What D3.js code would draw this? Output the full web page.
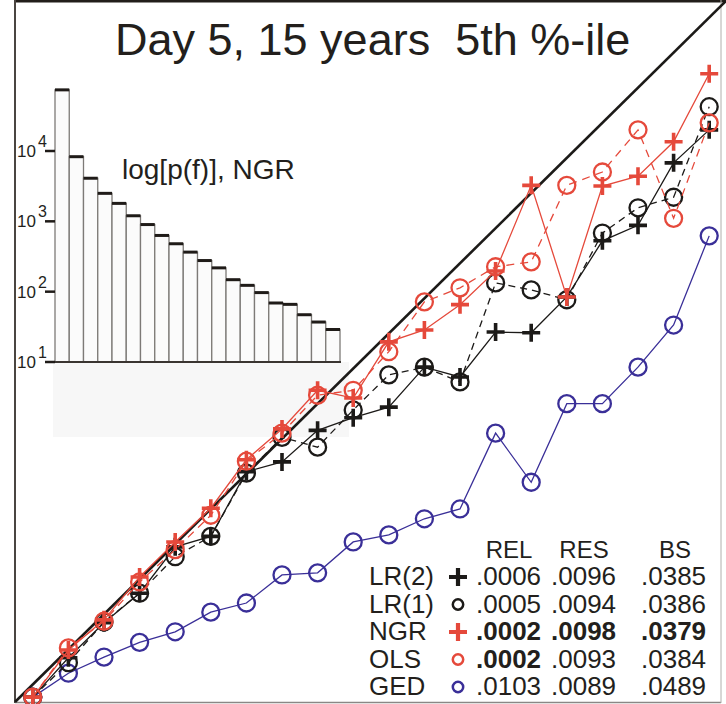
<!DOCTYPE html>
<html>
<head>
<meta charset="utf-8">
<script src="https://cdn.jsdelivr.net/npm/d3@7"></script>
<style>
  body { margin: 0; background: #fff; }
  svg { display: block; }
  text { font-family: "Liberation Sans", Arial, sans-serif; fill: #231f1c; }
</style>
</head>
<body>
<script>
// forecast probability bins (centres)
var probBins = [0.025, 0.075, 0.125, 0.175, 0.225, 0.275, 0.325, 0.375, 0.425, 0.475,
                0.525, 0.575, 0.625, 0.675, 0.725, 0.775, 0.825, 0.875, 0.925, 0.975];

var lr2 = [0.007, 0.063, 0.113, 0.155, 0.221, 0.236, 0.328, 0.342, 0.387, 0.405,
           0.420, 0.477, 0.463, 0.527, 0.526, 0.577, 0.657, 0.679, 0.768, 0.815];
var lr1 = [0.007, 0.056, 0.114, 0.155, 0.207, 0.236, 0.326, 0.377, 0.363, 0.416,
           0.466, 0.477, 0.456, 0.597, 0.587, 0.573, 0.668, 0.704, 0.719, 0.848];
var ngr = [0.007, 0.074, 0.117, 0.178, 0.228, 0.276, 0.345, 0.389, 0.444, 0.433,
           0.513, 0.530, 0.566, 0.614, 0.736, 0.577, 0.735, 0.749, 0.798, 0.895];
var ols = [0.007, 0.077, 0.115, 0.171, 0.217, 0.266, 0.343, 0.383, 0.437, 0.444,
           0.499, 0.570, 0.590, 0.620, 0.627, 0.736, 0.755, 0.815, 0.689, 0.825];
var ged = [0.007, 0.041, 0.064, 0.085, 0.100, 0.128, 0.141, 0.181, 0.184, 0.228,
           0.238, 0.261, 0.275, 0.383, 0.313, 0.425, 0.425, 0.477, 0.537, 0.664];

// NGR forecast counts per bin (inset histogram, log scale)
var ngrCounts = [74000, 8300, 4100, 2500, 1800, 1200, 900, 630, 480, 365,
                 277, 218, 148, 123, 97, 69, 66, 47, 37, 29];
var histTicks = [10, 100, 1000, 10000];

// score table
var scoreHeads = ["REL", "RES", "BS"];
var scoreNames = ["LR(2)", "LR(1)", "NGR", "OLS", "GED"];
var relVals = [".0006", ".0005", ".0002", ".0002", ".0103"];
var resVals = [".0096", ".0094", ".0098", ".0093", ".0089"];
var bsVals  = [".0385", ".0386", ".0379", ".0384", ".0489"];
var boldRel = [false, false, true, true, false];
var boldRes = [false, false, true, false, false];
var boldBs  = [false, false, true, false, false];

var RED = "#e5493b", BLUE = "#3a2f98", BLACK = "#1c1a18";

var series = [
  {key: "GED", vals: ged, color: BLUE, marker: "circle", dash: null},
  {key: "LR(1)", vals: lr1, color: BLACK, marker: "circle", dash: "7,5"},
  {key: "LR(2)", vals: lr2, color: BLACK, marker: "plus", dash: null},
  {key: "OLS", vals: ols, color: RED, marker: "circle", dash: "8,6"},
  {key: "NGR", vals: ngr, color: RED, marker: "plus", dash: null}
];

var width = 726, height = 704;
var svg = d3.select("body").append("svg")
  .attr("width", width)
  .attr("height", height);

var x = d3.scaleLinear().domain([0, 1]).range([15, 727]);
var y = d3.scaleLinear().domain([0, 1]).range([702, 0]);

// frame
svg.append("line").attr("x1", 15).attr("x2", 726).attr("y1", 1).attr("y2", 1)
  .attr("stroke", "#221e1a").attr("stroke-width", 3);
svg.append("line").attr("x1", 15).attr("x2", 15).attr("y1", 0).attr("y2", 703)
  .attr("stroke", "#4a4541").attr("stroke-width", 2);
svg.append("line").attr("x1", 15).attr("x2", 721).attr("y1", 702.5).attr("y2", 702.5)
  .attr("stroke", "#8a8785").attr("stroke-width", 1.5);
svg.append("line").attr("x1", 721).attr("x2", 721).attr("y1", 0).attr("y2", 703)
  .attr("stroke", "#b0aeac").attr("stroke-width", 1);

// title
svg.append("text")
  .attr("x", 115).attr("y", 55)
  .style("font-size", "45px")
  .style("white-space", "pre")
  .text("Day 5, 15 years  5th %-ile");

// inset histogram
var hx = d3.scaleBand().domain(d3.range(ngrCounts.length)).range([55, 340]);
var hy = d3.scaleLog().domain([10, 10000]).range([362, 151]);

svg.append("rect").attr("x", 53).attr("y", 362).attr("width", 296).attr("height", 75)
  .attr("fill", "#f7f7f7");

var bars = svg.append("g");
bars.selectAll("rect.bar").data(ngrCounts).join("rect")
  .attr("class", "bar")
  .attr("x", function(d, i) { return hx(i); })
  .attr("y", function(d) { return hy(d); })
  .attr("width", hx.bandwidth())
  .attr("height", function(d) { return 362 - hy(d); })
  .attr("fill", "#fbfbfb")
  .attr("stroke", "#7d7a77")
  .attr("stroke-width", 1.3);
bars.selectAll("line.top").data(ngrCounts).join("line")
  .attr("class", "top")
  .attr("x1", function(d, i) { return hx(i); })
  .attr("x2", function(d, i) { return hx(i) + hx.bandwidth(); })
  .attr("y1", function(d) { return hy(d); })
  .attr("y2", function(d) { return hy(d); })
  .attr("stroke", "#1f1b18").attr("stroke-width", 3);
svg.append("line").attr("x1", 53).attr("x2", 341).attr("y1", 362).attr("y2", 362)
  .attr("stroke", "#3a3531").attr("stroke-width", 1.8);

var ht = svg.append("g").selectAll("g").data(histTicks).join("g")
  .attr("transform", function(d) { return "translate(0," + hy(d) + ")"; });
ht.append("line").attr("x1", 45).attr("x2", 55)
  .attr("stroke", "#1f1b18").attr("stroke-width", 2.5);
var tl = ht.append("text").attr("x", 17).attr("y", 6).style("font-size", "17px");
tl.append("tspan").text("10");
tl.append("tspan").attr("dx", 2).attr("dy", -10).style("font-size", "16px")
  .text(function(d) { return Math.round(Math.log10(d)); });

svg.append("text").attr("x", 122).attr("y", 179)
  .style("font-size", "28px")
  .text("log[p(f)], NGR");

// diagonal
svg.append("line")
  .attr("x1", x(0)).attr("y1", y(0)).attr("x2", x(1)).attr("y2", y(1))
  .attr("stroke", BLACK).attr("stroke-width", 2.6);

function drawMarker(sel, kind, color, s) {
  if (kind === "plus") {
    sel.append("path")
      .attr("d", "M" + (-s) + ",0H" + s + "M0," + (-s) + "V" + s)
      .attr("stroke", color).attr("stroke-width", 3.6).attr("fill", "none");
  } else {
    sel.append("circle").attr("r", s)
      .attr("stroke", color).attr("stroke-width", 2.3).attr("fill", "none");
  }
}

var line = d3.line()
  .x(function(d, i) { return x(probBins[i]); })
  .y(function(d) { return y(d); });

series.forEach(function(s) {
  svg.append("path")
    .datum(s.vals)
    .attr("d", line)
    .attr("fill", "none")
    .attr("stroke", s.color)
    .attr("stroke-width", 1.3)
    .attr("stroke-dasharray", s.dash);
  svg.append("g").selectAll("g").data(s.vals).join("g")
    .attr("transform", function(d, i) { return "translate(" + x(probBins[i]) + "," + y(d) + ")"; })
    .each(function() { drawMarker(d3.select(this), s.marker, s.color, s.marker === "plus" ? 9 : 8.5); });
});

// score table
var legendMarks = {
  "LR(2)": {kind: "plus", color: BLACK},
  "LR(1)": {kind: "circle", color: BLACK},
  "NGR": {kind: "plus", color: RED},
  "OLS": {kind: "circle", color: RED},
  "GED": {kind: "circle", color: BLUE}
};
var colX = [509, 584, 675];
var tbl = svg.append("g");
tbl.selectAll("text.head").data(scoreHeads).join("text")
  .attr("class", "head")
  .attr("x", function(d, i) { return colX[i]; })
  .attr("y", 558)
  .attr("text-anchor", "middle")
  .style("font-size", "24px")
  .text(function(d) { return d; });

var rowY = d3.scalePoint().domain(scoreNames).range([585, 695]);
var rows = tbl.selectAll("g.row").data(scoreNames).join("g")
  .attr("class", "row")
  .attr("transform", function(d) { return "translate(0," + rowY(d) + ")"; });
rows.append("text").attr("x", 369).style("font-size", "26px")
  .text(function(d) { return d; });
rows.each(function(d) {
  var m = legendMarks[d];
  var g = d3.select(this).append("g").attr("transform", "translate(458,-8)");
  if (m.kind === "plus") {
    g.append("path").attr("d", "M-9,0H9M0,-9V9")
      .attr("stroke", m.color).attr("stroke-width", 4.2);
  } else {
    g.append("circle").attr("r", 5.2).attr("fill", "none")
      .attr("stroke", m.color).attr("stroke-width", 2.5);
  }
});
rows.append("text").attr("x", 476).style("font-size", "26px")
  .style("font-weight", function(d, i) { return boldRel[i] ? "bold" : "normal"; })
  .text(function(d, i) { return relVals[i]; });
rows.append("text").attr("x", 551).style("font-size", "26px")
  .style("font-weight", function(d, i) { return boldRes[i] ? "bold" : "normal"; })
  .text(function(d, i) { return resVals[i]; });
rows.append("text").attr("x", 641).style("font-size", "26px")
  .style("font-weight", function(d, i) { return boldBs[i] ? "bold" : "normal"; })
  .text(function(d, i) { return bsVals[i]; });
</script>
</body>
</html>
